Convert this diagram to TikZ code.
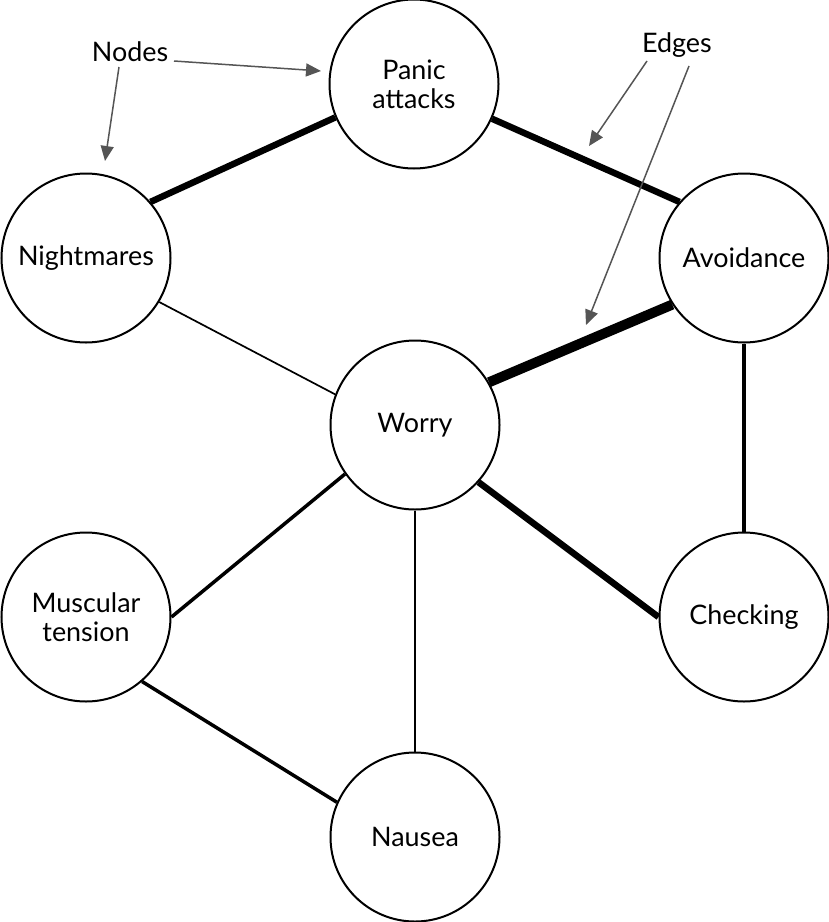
\documentclass[tikz,border=0pt]{standalone}
\usepackage{fontspec}
\setmainfont{Lato}
\usetikzlibrary{arrows.meta,backgrounds}
\definecolor{anno}{HTML}{555555}
\tikzset{
  circnode/.style={circle,draw,line width=2bp,fill=white,minimum size=169bp,inner sep=0pt,align=center,font=\fontsize{27}{29}\selectfont},
  annotext/.style={font=\fontsize{27}{29}\selectfont,inner sep=0pt},
  annoarrow/.style={draw=anno,line width=1.5bp,-{Triangle[length=15bp,width=13bp,fill=anno]}},
  edgeA/.style={line width=1.7bp},
  edgeB/.style={line width=3.5bp},
  edgeC/.style={line width=6.5bp},
  edgeD/.style={line width=10bp},
}
\begin{document}
\begin{tikzpicture}[x=1bp,y=-1bp]
\useasboundingbox (0,0) rectangle (829,922);
\node[circnode] (panic) at (414,84) {Panic\\attacks};
\node[circnode] (night) at (86,258) {Nightmares};
\node[circnode] (avoid) at (744,258) {Avoidance};
\node[circnode] (worry) at (415,425) {Worry};
\node[circnode] (muscle) at (86,617) {Muscular\\tension};
\node[circnode] (check) at (744,617) {Checking};
\node[circnode] (nausea) at (415,837) {Nausea};
\begin{scope}[on background layer]
\draw[edgeC] (night.41.6) -- (panic.203);
\draw[edgeC] (panic.-24) -- (avoid.139);
\draw[edgeD] (avoid.213.5) -- (worry.30.8);
\draw[edgeA] (night.-31.3) -- (worry.159.4);
\draw[edgeB] (avoid.south) -- (check.north);
\draw[edgeC] (worry.-42.6) -- (check.west);
\draw[edgeB] (worry.215) -- (muscle.east);
\draw[edgeA] (worry.south) -- (nausea.north);
\draw[edgeB] (muscle.-49) -- (nausea.156.4);
\end{scope}
\node[annotext] (nodes) at (130,52) {Nodes};
\node[annotext] (edges) at (677,45) {Edges};
\coordinate (n1s) at (174,61);
\coordinate (n1e) at (321,71);
\coordinate (n2s) at (119,67);
\coordinate (n2e) at (105,161);
\coordinate (e1s) at (647,61);
\coordinate (e1e) at (589,146);
\coordinate (e2s) at (689,66);
\coordinate (e2e) at (586,325);
\draw[annoarrow] (n1s) -- (n1e);
\draw[annoarrow] (n2s) -- (n2e);
\draw[annoarrow] (e1s) -- (e1e);
\draw[annoarrow] (e2s) -- (e2e);
\end{tikzpicture}
\end{document}
